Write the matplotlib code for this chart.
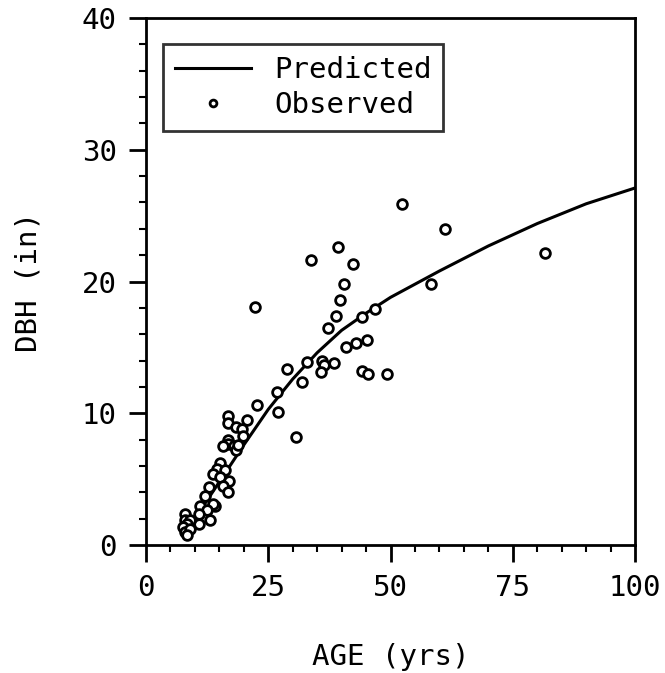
import numpy as np
import matplotlib
matplotlib.use("Agg")
import matplotlib.pyplot as plt
from matplotlib.ticker import MultipleLocator

# observed trees (age in yrs, dbh in inches)
obs_age = [81.6, 61.1, 58.3, 52.3, 39.3, 33.8, 42.3, 40.5, 39.7, 38.9, 37.3,
           44.2, 46.8, 45.2, 42.9, 40.9, 38.5, 35.9, 36.3, 35.8, 32.9,
           28.9, 31.8, 44.2, 45.3, 49.3, 26.8, 30.7, 26.9, 22.8, 22.3,
           16.8, 16.8, 20.7, 18.5, 19.6, 19.9, 16.8, 16.8, 15.8, 17.9, 18.5,
           18.8, 15.1, 14.5, 16.2, 13.8, 15.1, 17.0, 15.8, 16.8, 12.9, 12.1,
           14.1, 13.7, 11.0, 12.4, 10.9, 13.1, 10.9, 8.0, 8.0, 9.0, 8.4, 7.6,
           8.0, 9.0, 8.4]
obs_dbh = [22.2, 24.0, 19.8, 25.9, 22.6, 21.6, 21.3, 19.8, 18.6, 17.4, 16.5,
           17.3, 17.9, 15.6, 15.3, 15.0, 13.8, 14.0, 13.7, 13.1, 13.9,
           13.4, 12.4, 13.2, 13.0, 13.0, 11.6, 8.2, 10.1, 10.6, 18.1,
           9.8, 9.3, 9.5, 9.0, 8.8, 8.3, 8.0, 7.7, 7.5, 7.5, 7.2,
           7.6, 6.2, 5.8, 5.7, 5.4, 5.2, 4.9, 4.5, 4.0, 4.4, 3.7,
           3.0, 3.1, 3.0, 2.7, 2.4, 1.9, 1.6, 2.4, 1.9, 1.9, 1.6, 1.4,
           1.0, 1.2, 0.8]

# predicted curve
pred_age = [8, 10, 15, 20, 25, 30, 35, 40, 45, 50, 60, 70, 80, 90, 100]
pred_dbh = [1.0, 2.0, 4.8, 7.6, 10.3, 12.6, 14.6, 16.3, 17.6, 18.8, 20.8,
            22.7, 24.4, 25.9, 27.1]

plt.rcParams['font.family'] = 'DejaVu Sans Mono'

fig = plt.figure(figsize=(6.65, 6.73), dpi=100)
ax = fig.add_axes([0.2195, 0.19, 0.7355, 0.7833])

ax.plot(pred_age, pred_dbh, color='black', lw=2.2, label='Predicted', zorder=2)
ax.plot(obs_age, obs_dbh, ls='none', marker='o', ms=7, mfc='white',
        mec='black', mew=2.0, label='Observed', zorder=3)

ax.set_xlim(0, 100)
ax.set_ylim(0, 40)
ax.xaxis.set_major_locator(MultipleLocator(25))
ax.xaxis.set_minor_locator(MultipleLocator(5))
ax.yaxis.set_major_locator(MultipleLocator(10))
ax.yaxis.set_minor_locator(MultipleLocator(2))
ax.tick_params(which='major', direction='out', length=12, width=2,
               labelsize=21, pad=9)
ax.tick_params(which='minor', direction='out', length=5, width=1.5)
for s in ax.spines.values():
    s.set_linewidth(2)

ax.set_xlabel('AGE (yrs)', fontsize=21, labelpad=29)
ax.set_ylabel('DBH (in)', fontsize=21, labelpad=28)

leg = ax.legend(loc='upper left', bbox_to_anchor=(0.035, 0.95), fontsize=21,
                frameon=True, fancybox=False, edgecolor='black',
                handlelength=2.6, borderpad=0.4, labelspacing=0.25,
                handletextpad=0.8, markerscale=0.7, borderaxespad=0)
leg.get_frame().set_linewidth(2)

fig.savefig('out.png', dpi=100)
